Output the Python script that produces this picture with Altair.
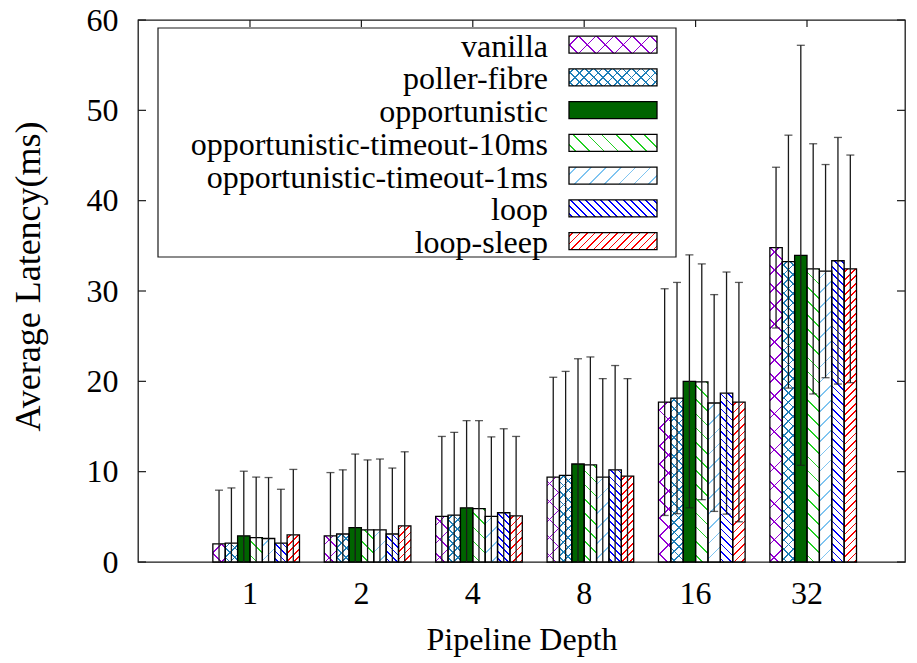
import math
import altair as alt

# ---------------- data ----------------
depths = ["1", "2", "4", "8", "16", "32"]
series = [
    "vanilla",
    "poller-fibre",
    "opportunistic",
    "opportunistic-timeout-10ms",
    "opportunistic-timeout-1ms",
    "loop",
    "loop-sleep",
]

mean_vanilla = [2.0, 2.9, 5.05, 9.4, 17.7, 34.8]
mean_poller = [2.1, 3.1, 5.2, 9.6, 18.15, 33.25]
mean_opp = [2.9, 3.8, 6.0, 10.85, 20.0, 33.95]
mean_opp10 = [2.7, 3.55, 5.9, 10.75, 19.95, 32.45]
mean_opp1 = [2.6, 3.55, 5.05, 9.4, 17.6, 32.2]
mean_loop = [2.1, 3.1, 5.45, 10.2, 18.7, 33.35]
mean_sleep = [3.0, 4.0, 5.1, 9.5, 17.7, 32.45]

err_vanilla = [5.95, 7.0, 8.85, 11.05, 12.55, 8.9]
err_poller = [6.1, 7.1, 9.15, 11.5, 12.8, 14.0]
err_opp = [7.15, 8.15, 9.65, 11.65, 14.0, 23.25]
err_opp10 = [6.7, 7.75, 9.75, 11.95, 13.05, 13.85]
err_opp1 = [6.75, 7.85, 8.8, 10.9, 12.0, 11.8]
err_loop = [5.95, 7.3, 9.3, 11.55, 13.4, 13.65]
err_sleep = [7.25, 8.2, 8.8, 10.8, 13.25, 12.6]

ytick_values = [0, 10, 20, 30, 40, 50, 60]

means = [mean_vanilla, mean_poller, mean_opp, mean_opp10, mean_opp1, mean_loop, mean_sleep]
errs = [err_vanilla, err_poller, err_opp, err_opp10, err_opp1, err_loop, err_sleep]

# ---------------- styles ----------------
colors = ["#9400D3", "#1E7FB8", "#006400", "#22D022", "#7FC4F0", "#0000FF", "#FF0000"]
base_fill = ["#FFFFFF", "#FFFFFF", "#006400", "#FFFFFF", "#FFFFFF", "#FFFFFF", "#FFFFFF"]
# hatch families: ("back" = "\", "fwd" = "/"), perpendicular period in px
hatch_spec = [
    [("back", 12.7), ("fwd", 12.7)],
    [("back", 6.7), ("fwd", 6.7)],
    [],
    [("back", 10.0)],
    [("fwd", 10.5)],
    [("back", 5.3)],
    [("fwd", 5.3)],
]

FONT = "Liberation Serif"
FS = 32
W, H = 767, 542
PAD = {"left": 138, "top": 20, "right": 12, "bottom": 101}
PI, PO, ALIGN = 1 / 9, 0.498, 0.563
YMAX = 60

step = W / (len(depths) - PI + 2 * PO)
bar_w = step * (1 - PI) / (len(series) + 1)
px_per_unit = H / YMAX


def hatch_gradient(w, h, kind, period, color, lw=1.2):
    d = w * w + h * h
    a = w * (w + h) / d
    b = h * (w + h) / d
    length = (w + h) / math.sqrt(2)
    if kind == "back":
        x1, y1, x2, y2 = 0, 1, a, 1 - b
    else:
        x1, y1, x2, y2 = 0, 0, a, b
    clear = "rgba(255,255,255,0)"
    stops = [{"offset": 0, "color": clear}]
    c = period / 2
    while c < length:
        o1 = round(max(0.0, (c - lw / 2) / length), 5)
        o2 = round(min(1.0, (c + lw / 2) / length), 5)
        stops += [
            {"offset": o1, "color": clear},
            {"offset": o1, "color": color},
            {"offset": o2, "color": color},
            {"offset": o2, "color": clear},
        ]
        c += period
    stops.append({"offset": 1, "color": clear})
    return {"gradient": "linear", "x1": x1, "y1": y1, "x2": x2, "y2": y2, "stops": stops}


records, hatch_records = [], []
for i, s in enumerate(series):
    for j, dname in enumerate(depths):
        m = means[i][j]
        records.append({"depth": dname, "series": s, "mean": m, "err": errs[i][j], "base": base_fill[i]})
        for kind, period in hatch_spec[i]:
            hatch_records.append({
                "depth": dname, "series": s, "mean": m,
                "g": hatch_gradient(bar_w, m * px_per_unit, kind, period, colors[i]),
            })

legend_records, legend_hatch = [], []
LEG_W, LEG_H = 88, 17
for i, s in enumerate(series):
    legend_records.append({"series": s, "base": base_fill[i]})
    for kind, period in hatch_spec[i]:
        legend_hatch.append({"series": s, "g": hatch_gradient(LEG_W, LEG_H, kind, period, colors[i])})

# ---------------- encodings ----------------
x_scale = alt.Scale(domain=depths, paddingInner=PI, paddingOuter=PO, align=ALIGN)
x_axis_def = alt.Axis(
    title="Pipeline Depth", labelAngle=0, labelFont=FONT, labelFontSize=FS,
    labelColor="#000", labelPadding=31, labelBaseline="middle",
    ticks=False, domain=False, grid=False,
    titleFont=FONT, titleFontSize=FS, titleFontWeight="normal", titleColor="#000",
    titleY=87, titleBaseline="alphabetic",
)
x_enc = alt.X("depth:N", scale=x_scale, axis=x_axis_def)
xo = alt.XOffset("series:N", scale=alt.Scale(domain=["_"] + series, paddingInner=0, paddingOuter=0))
y_scale = alt.Scale(domain=[0, YMAX], nice=False)
y_axis = alt.Y(
    "mean:Q",
    scale=y_scale,
    stack=None,
    axis=alt.Axis(
        values=ytick_values, title="Average Latency(ms)", labelFont=FONT, labelFontSize=FS,
        labelColor="#000", labelPadding=20, ticks=False, domain=False, grid=False,
        titleFont=FONT, titleFontSize=36, titleFontWeight="normal", titleColor="#000",
        titleX=-110, titleY=256, titleAngle=270, titleAlign="center", titleBaseline="middle",
    ),
)
y_plain = alt.Y("mean:Q", scale=y_scale, stack=None, axis=None)

ink = "#1a1a1a"

base = alt.Chart(alt.Data(values=records)).mark_bar().encode(
    x=x_enc, xOffset=xo, y=y_axis, fill=alt.Fill("base:N", scale=None)
)
hatch = alt.Chart(alt.Data(values=hatch_records)).mark_bar().encode(
    x=x_enc, xOffset=xo, y=y_plain, fill=alt.Fill("g:N", scale=None)
)
outline = alt.Chart(alt.Data(values=records)).mark_bar(
    fill="transparent", stroke="#000", strokeWidth=1.3
).encode(x=x_enc, xOffset=xo, y=y_plain)

err_src = alt.Chart(alt.Data(values=records)).transform_calculate(
    lo="max(0, datum.mean - datum.err)", hi="datum.mean + datum.err"
)
err_rule = err_src.mark_rule(color=ink, strokeWidth=1.3).encode(
    x=x_enc, xOffset=xo, y=alt.Y("lo:Q", scale=y_scale, axis=None), y2="hi:Q"
)
cap_hi = err_src.mark_tick(color=ink, thickness=1.3, size=8, orient="horizontal").encode(
    x=x_enc, xOffset=xo, y=alt.Y("hi:Q", scale=y_scale, axis=None)
)
cap_lo = err_src.transform_filter("datum.mean - datum.err > 0").mark_tick(
    color=ink, thickness=1.3, size=8, orient="horizontal"
).encode(x=x_enc, xOffset=xo, y=alt.Y("lo:Q", scale=y_scale, axis=None))

ytick_data = alt.Data(values=[{"v": v} for v in ytick_values])
ytick_left = alt.Chart(ytick_data).mark_rule(color=ink, strokeWidth=1.2).encode(
    y=alt.Y("v:Q", scale=y_scale, axis=None), x=alt.value(0), x2=alt.value(8)
)
ytick_right = alt.Chart(ytick_data).mark_rule(color=ink, strokeWidth=1.2).encode(
    y=alt.Y("v:Q", scale=y_scale, axis=None), x=alt.value(W - 8), x2=alt.value(W)
)
xtick_top = alt.Chart(alt.Data(values=[{"depth": d} for d in depths])).mark_rule(
    color=ink, strokeWidth=1.2
).encode(x=x_enc, y=alt.value(0), y2=alt.value(7))

# ---------------- legend ----------------
ly = alt.Y(
    "series:N",
    scale=alt.Scale(domain=series, range=[8.33, 237.58], paddingInner=0.481, paddingOuter=0.2405),
    axis=None,
)
leg_base = alt.Chart(alt.Data(values=legend_records)).mark_rect().encode(
    y=ly, x=alt.value(431), x2=alt.value(519), fill=alt.Fill("base:N", scale=None)
)
leg_hatch = alt.Chart(alt.Data(values=legend_hatch)).mark_rect().encode(
    y=ly, x=alt.value(431), x2=alt.value(519), fill=alt.Fill("g:N", scale=None)
)
leg_outline = alt.Chart(alt.Data(values=legend_records)).mark_rect(
    fill="transparent", stroke="#000", strokeWidth=1.3
).encode(y=ly, x=alt.value(431), x2=alt.value(519))
leg_text = alt.Chart(alt.Data(values=legend_records)).mark_text(
    align="right", baseline="middle", dy=2, font=FONT, fontSize=FS, color="#000"
).encode(y=ly, x=alt.value(410), text="series:N")
leg_frame = alt.Chart(alt.Data(values=[{"frame": 1}])).mark_rect(
    fill="transparent", stroke=ink, strokeWidth=1.2
).encode(x=alt.value(20), x2=alt.value(538), y=alt.value(8), y2=alt.value(237))

chart = (
    alt.layer(
        base, hatch, outline, err_rule, cap_hi, cap_lo, ytick_left, ytick_right, xtick_top,
        leg_frame, leg_base, leg_hatch, leg_outline, leg_text,
    )
    .resolve_scale(y="independent")
    .properties(width=W, height=H, padding=PAD, autosize=alt.AutoSizeParams(type="none"))
    .configure_view(stroke=ink, strokeWidth=1.3)
)

chart.save("out.html", embed_options={"renderer": "svg", "actions": False})
